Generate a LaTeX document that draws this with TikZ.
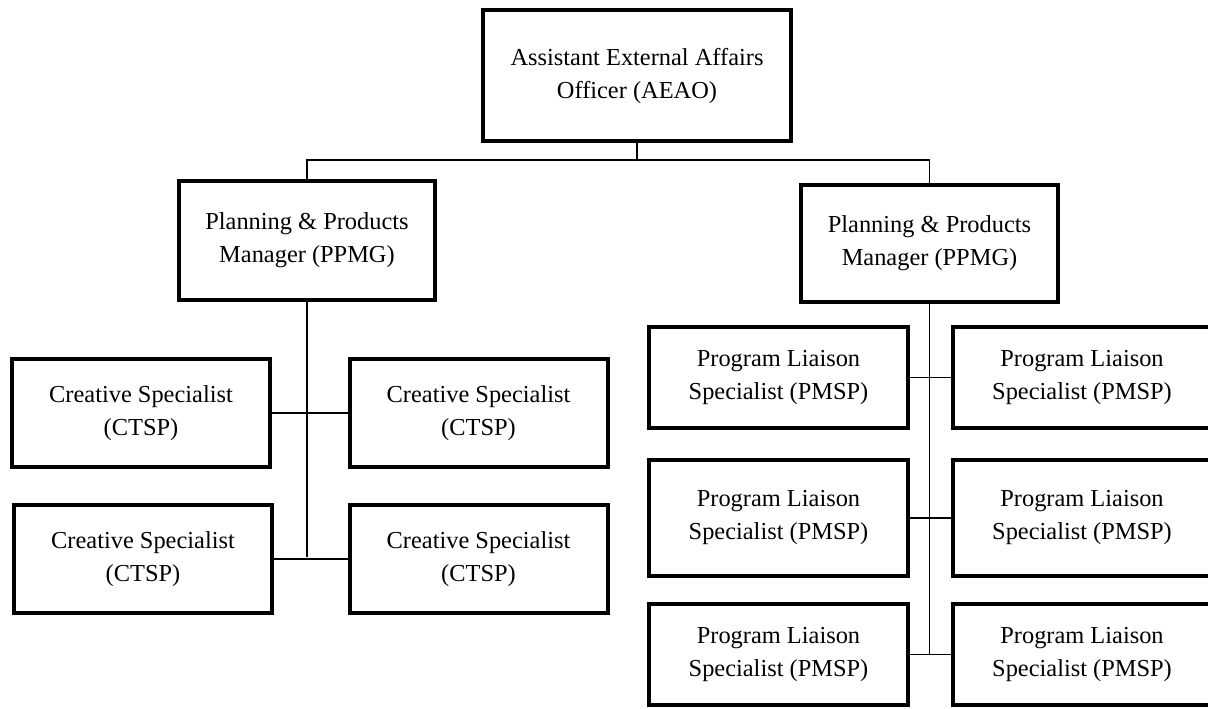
\documentclass[tikz,border=0pt]{standalone}
\usepackage{fontspec}
\setmainfont{Liberation Serif}
\begin{document}
\begin{tikzpicture}[x=0.5pt,y=-0.5pt,
    poste/.style={draw,line width=2pt,align=center,inner sep=0pt,
        font=\fontsize{12.2}{16.5}\selectfont,
        execute at begin node=\rule{0pt}{16pt}},
    lien/.style={line width=0.7pt}]
\clip (0,0) rectangle (1208,708);%la derniere colonne sort du cadre

% direction
\node[poste,minimum width=154pt,minimum height=65.5pt] (aeao) at (637,75.5) {Assistant External Affairs\\Officer (AEAO)};
\node[poste,minimum width=128pt,minimum height=59.5pt] (ppmgG) at (307,240.5) {Planning \& Products\\Manager (PPMG)};
\node[poste,minimum width=128.5pt,minimum height=58.5pt] (ppmgD) at (929.5,243.5) {Planning \& Products\\Manager (PPMG)};

% branche gauche
\node[poste,minimum width=129pt,minimum height=54pt] (ctspA) at (141,413) {Creative Specialist\\(CTSP)};
\node[poste,minimum width=129pt,minimum height=54pt] (ctspB) at (478.5,413) {Creative Specialist\\(CTSP)};
\node[poste,minimum width=129pt,minimum height=54pt] (ctspC) at (143,559) {Creative Specialist\\(CTSP)};
\node[poste,minimum width=129pt,minimum height=54pt] (ctspD) at (478.5,559) {Creative Specialist\\(CTSP)};

% branche droite
\node[poste,minimum width=129.5pt,minimum height=50.5pt] (pmspA) at (778.5,377.5) {Program Liaison\\Specialist (PMSP)};
\node[poste,minimum width=129.5pt,minimum height=50.5pt] (pmspB) at (1082,377.5) {Program Liaison\\Specialist (PMSP)};
\node[poste,minimum width=129.5pt,minimum height=58pt] (pmspC) at (778.5,518) {Program Liaison\\Specialist (PMSP)};
\node[poste,minimum width=129.5pt,minimum height=58pt] (pmspD) at (1082,518) {Program Liaison\\Specialist (PMSP)};
\node[poste,minimum width=129.5pt,minimum height=50.5pt] (pmspE) at (778.5,654.5) {Program Liaison\\Specialist (PMSP)};
\node[poste,minimum width=129.5pt,minimum height=50.5pt] (pmspF) at (1082,654.5) {Program Liaison\\Specialist (PMSP)};

% liens
\coordinate (barre) at (637,160);
\coordinate (basG) at (307,557);
\coordinate (basD) at (929.5,655);
\draw[lien] (aeao) -- (barre);
\draw[lien] (ppmgG) |- (barre) -| (ppmgD);
\draw[lien] (ppmgG) -- (basG);
\draw[lien] (ctspA) -- (ctspB);
\draw[lien] (ctspC) -- (ctspD);
\draw[lien] (ppmgD) -- (basD);
\draw[lien] (pmspA) -- (pmspB);
\draw[lien] (pmspC) -- (pmspD);
\draw[lien] (pmspE) -- (pmspF);
\end{tikzpicture}
\end{document}
